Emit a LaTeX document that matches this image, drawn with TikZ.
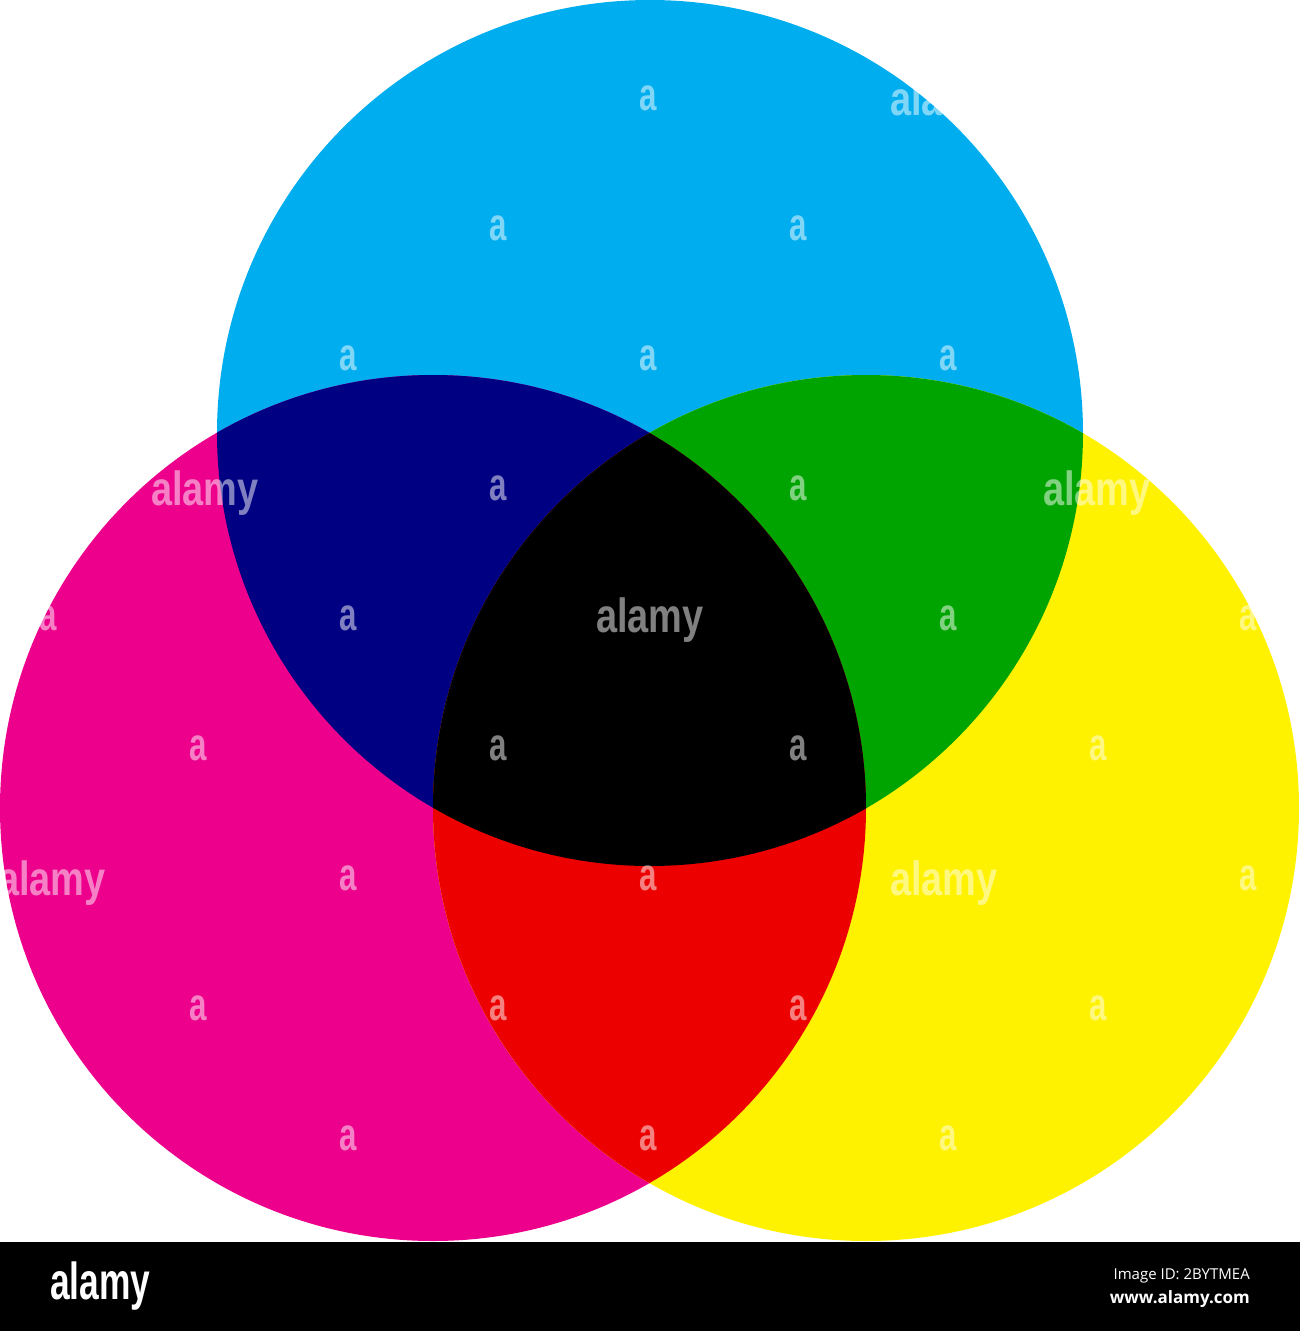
\documentclass[tikz,border=0pt]{standalone}
\usepackage{fontspec}
\usepackage{xcolor}
\usepackage{tikz}
\newfontfamily\wmfont{Liberation Sans}
\newfontfamily\idfont{Open Sans}
\definecolor{cmycyan}{RGB}{0,174,239}
\definecolor{cmymagenta}{RGB}{236,0,140}
\definecolor{cmyyellow}{RGB}{255,242,0}
\definecolor{cmyblue}{RGB}{0,0,130}
\definecolor{cmygreen}{RGB}{0,164,0}
\definecolor{cmyred}{RGB}{236,0,0}
\tikzset{
    disc/.style={radius=433},
    wm/.style={text=white, text opacity=0.5, inner sep=0pt, anchor=base},
    wma/.style={wm, font=\wmfont\bfseries\fontsize{46}{46}\selectfont, xscale=0.68},
    wmword/.style={wm, font=\wmfont\bfseries\fontsize{48}{48}\selectfont, xscale=0.79},
    bartext/.style={text=white, inner sep=0pt, anchor=base east}
}

\begin{document}
\begin{tikzpicture}[x=1pt, y=-1pt]
        \useasboundingbox (0,0) rectangle (1300,1331);
        \coordinate (c) at (650,433);
        \coordinate (m) at (433,808);
        \coordinate (y) at (866,808);

        \fill[cmycyan] (c) circle[disc];
        \fill[cmymagenta] (m) circle[disc];
        \fill[cmyyellow] (y) circle[disc];

        \begin{scope}
            \clip (c) circle[disc];
            \fill[cmyblue] (m) circle[disc];
            \fill[cmygreen] (y) circle[disc];
        \end{scope}
        \begin{scope}
            \clip (m) circle[disc];
            \fill[cmyred] (y) circle[disc];
        \end{scope}
        \begin{scope}
            \clip (c) circle[disc];
            \clip (m) circle[disc];
            \fill[black] (y) circle[disc];
        \end{scope}

        % watermark
        \foreach \x/\y in {648/110, 498/240, 798/240, 348/370, 648/370, 948/370,
            498/500, 798/500, 48/630, 348/630, 948/630, 1248/630,
            198/760, 498/760, 798/760, 1098/760, 348/890, 648/890, 1248/890,
            198/1020, 498/1020, 798/1020, 1098/1020, 348/1150, 648/1150, 948/1150}
            \node[wma] (wa-\x-\y) at (\x,\y) {a};
        \foreach \x/\y in {944/115, 205/505, 1097/505, 650/632, 52/895, 944/895}
            \node[wmword] (ww-\x-\y) at (\x,\y) {alamy};

        \fill[black] (0,1242) rectangle (1300,1331);
        \node[bartext, anchor=base west, font=\wmfont\bfseries\fontsize{52}{52}\selectfont, xscale=0.68]
            (logo) at (50,1299) {alamy};
        \node[bartext, font=\idfont\fontsize{15}{15}\selectfont] (imgid) at (1250,1279) {Image ID: 2BYTMEA};
        \node[bartext, font=\idfont\bfseries\fontsize{17}{17}\selectfont] (site) at (1250,1303) {www.alamy.com};
    \end{tikzpicture}
\end{document}
